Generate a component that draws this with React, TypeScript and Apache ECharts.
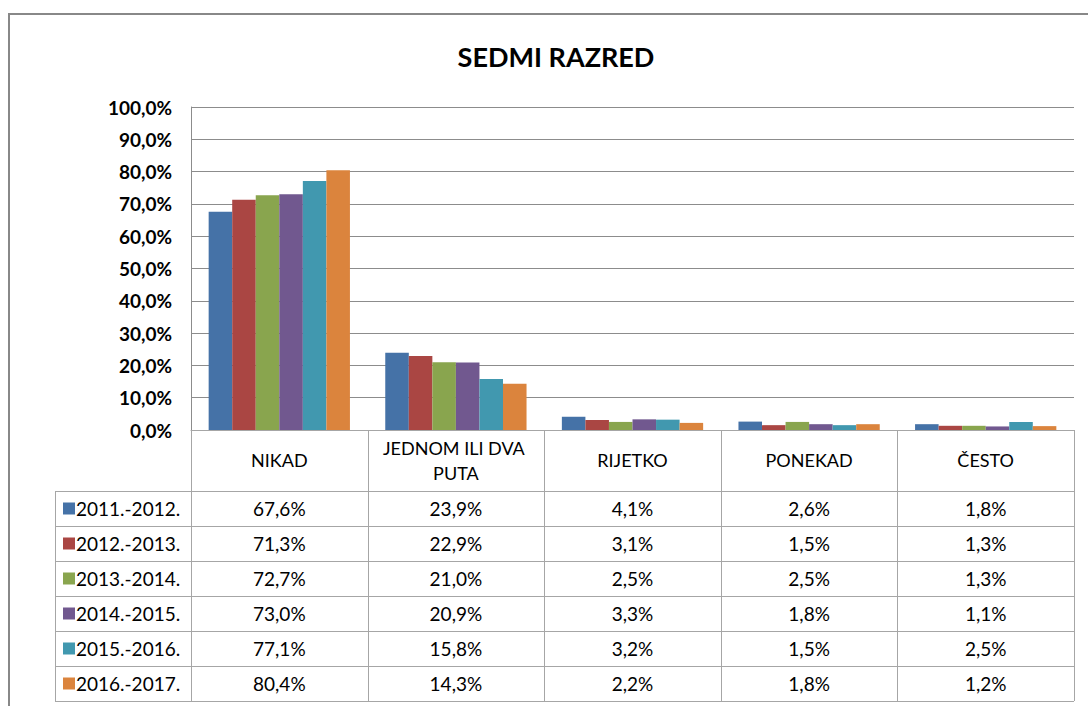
import React, { useEffect, useRef } from "react";
import * as echarts from "echarts";

const title = "SEDMI RAZRED";
const categories = ["NIKAD", "JEDNOM ILI DVA PUTA", "RIJETKO", "PONEKAD", "ČESTO"];
const seriesNames = ["2011.-2012.", "2012.-2013.", "2013.-2014.", "2014.-2015.", "2015.-2016.", "2016.-2017."];
const v2011 = [67.6, 23.9, 4.1, 2.6, 1.8];
const v2012 = [71.3, 22.9, 3.1, 1.5, 1.3];
const v2013 = [72.7, 21.0, 2.5, 2.5, 1.3];
const v2014 = [73.0, 20.9, 3.3, 1.8, 1.1];
const v2015 = [77.1, 15.8, 3.2, 1.5, 2.5];
const v2016 = [80.4, 14.3, 2.2, 1.8, 1.2];
const seriesValues = [v2011, v2012, v2013, v2014, v2015, v2016];
const colors = ["#4572A7", "#AA4643", "#89A54E", "#71588F", "#4198AF", "#DB843D"];
const yTicks = { min: 0, max: 100, interval: 10 };

const W = 1088;
const H = 706;
const PL = 191;
const PR = 1074;
const PT = 107;
const PB = 430;
const HEADER_B = 491;
const ROW_H = 35;
const LEGEND_L = 55;
const FONT = "Lato, 'Noto Sans', sans-serif";
const GRID_C = "#8c8c8c";
const TABLE_C = "#a6a6a6";

const fmt = (v: number) => v.toFixed(1).replace(".", ",") + "%";

export default function App() {
  const ref = useRef<HTMLDivElement>(null);
  useEffect(() => {
    if (!ref.current) return;
    const chart = echarts.init(ref.current, null, { renderer: "svg" });
    const colW = (PR - PL) / categories.length;
    const nRows = seriesNames.length;
    const tableBottom = HEADER_B + ROW_H * nRows;
    const graphics: any[] = [];
    graphics.push({
      type: "rect",
      shape: { x: 9, y: 14, width: W + 20, height: H + 20 },
      style: { fill: "none", stroke: "#888", lineWidth: 2 },
      silent: true,
    });
    graphics.push({
      type: "text",
      x: 556,
      y: 56,
      style: {
        text: title,
        fill: "#000",
        font: `bold 27px ${FONT}`,
        align: "center",
        verticalAlign: "middle",
      },
      silent: true,
    });
    for (let i = 0; i <= categories.length; i++) {
      const x = Math.round(PL + i * colW) + 0.5;
      graphics.push({
        type: "line",
        shape: { x1: x, y1: PB, x2: x, y2: tableBottom },
        style: { stroke: TABLE_C, lineWidth: 1 },
        silent: true,
      });
    }
    graphics.push({
      type: "line",
      shape: { x1: LEGEND_L + 0.5, y1: HEADER_B, x2: LEGEND_L + 0.5, y2: tableBottom },
      style: { stroke: TABLE_C, lineWidth: 1 },
      silent: true,
    });
    for (let r = 0; r <= nRows; r++) {
      const y = HEADER_B + r * ROW_H + 0.5;
      graphics.push({
        type: "line",
        shape: { x1: LEGEND_L, y1: y, x2: PR, y2: y },
        style: { stroke: TABLE_C, lineWidth: 1 },
        silent: true,
      });
    }
    seriesNames.forEach((name, r) => {
      const cy = HEADER_B + r * ROW_H + ROW_H / 2;
      graphics.push({
        type: "rect",
        shape: { x: 63, y: cy - 6, width: 12, height: 12 },
        style: { fill: colors[r] },
        silent: true,
      });
      graphics.push({
        type: "text",
        x: 76,
        y: cy,
        style: { text: name, fill: "#000", font: `19px ${FONT}`, align: "left", verticalAlign: "middle" },
        silent: true,
      });
      seriesValues[r].forEach((v, c) => {
        graphics.push({
          type: "text",
          x: PL + (c + 0.5) * colW,
          y: cy,
          style: { text: fmt(v), fill: "#000", font: `19px ${FONT}`, align: "center", verticalAlign: "middle" },
          silent: true,
        });
      });
    });

    chart.setOption({
      animation: false,
      backgroundColor: "#fff",
      grid: { left: PL, right: W - PR, top: PT, bottom: H - PB, containLabel: false },
      xAxis: {
        type: "category",
        data: categories,
        axisLine: { show: true, lineStyle: { color: TABLE_C } },
        axisTick: { show: false },
        axisLabel: {
          interval: 0,
          margin: 30,
          verticalAlign: "middle",
          width: 160,
          overflow: "break",
          fontFamily: FONT,
          fontSize: 18,
          lineHeight: 25,
          color: "#000",
        },
      },
      yAxis: {
        type: "value",
        min: yTicks.min,
        max: yTicks.max,
        interval: yTicks.interval,
        axisLine: { show: true, lineStyle: { color: GRID_C } },
        axisTick: { show: false },
        splitLine: { lineStyle: { color: GRID_C } },
        axisLabel: {
          formatter: (v: number) => fmt(v),
          margin: 19,
          fontFamily: FONT,
          fontWeight: "bold",
          fontSize: 19,
          color: "#000",
        },
      },
      series: seriesNames.map((name, i) => ({
        name,
        type: "bar",
        data: seriesValues[i],
        itemStyle: { color: colors[i] },
        barGap: "0%",
        barCategoryGap: "20%",
      })),
      graphic: graphics,
    });
    return () => chart.dispose();
  }, []);
  return (
    <div
      ref={ref}
      style={{ position: "fixed", left: 0, top: 0, width: W, height: H, background: "#fff" }}
    />
  );
}
